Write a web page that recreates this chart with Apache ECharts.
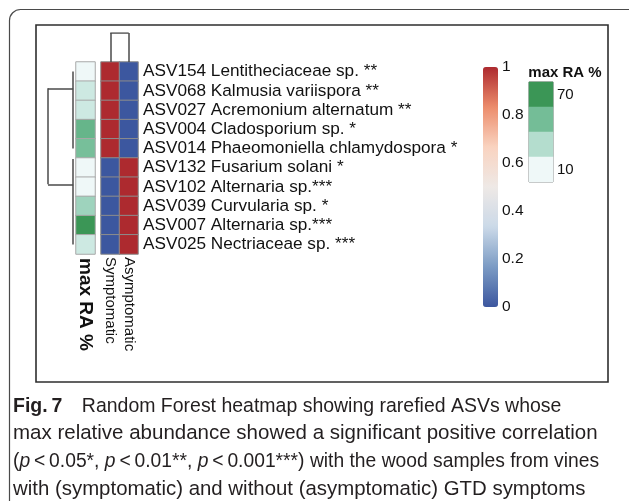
<!DOCTYPE html>
<html>
<head>
<meta charset="utf-8">
<script src="https://cdn.jsdelivr.net/npm/echarts@6/dist/echarts.min.js"></script>
<style>
  html, body { margin: 0; padding: 0; background: #fff; }
  #chart { width: 629px; height: 501px; }
</style>
</head>
<body>
<div id="chart"></div>
<script>
// Rows of the heatmap, top to bottom
const asvLabels = [
  'ASV154 Lentitheciaceae sp. **',
  'ASV068 Kalmusia variispora **',
  'ASV027 Acremonium alternatum **',
  'ASV004 Cladosporium sp. *',
  'ASV014 Phaeomoniella chlamydospora *',
  'ASV132 Fusarium solani *',
  'ASV102 Alternaria sp.***',
  'ASV039 Curvularia sp. *',
  'ASV007 Alternaria sp.***',
  'ASV025 Nectriaceae sp. ***'
];
const sampleGroups = ['Symptomatic', 'Asymptomatic'];
// Scaled abundance per group (0..1)
const symptomatic  = [1, 1, 1, 1, 1, 0, 0, 0, 0, 0];
const asymptomatic = [0, 0, 0, 0, 0, 1, 1, 1, 1, 1];
// Maximum relative abundance (%) of each ASV
const maxRA = [10, 25, 25, 54, 49, 10, 10, 38, 70, 25];
// Discrete legend for max RA %
const raLegendValues = [70, 50, 32, 10];
const raLegendLabels = ['70', '', '', '10'];
const raTitle = 'max RA %';
// Colour scale ticks
const scaleTicks = [0, 0.2, 0.4, 0.6, 0.8, 1];
// Row dendrogram: [height, row position] pairs per segment
const rowDendro = [
  [[1, 0.87], [1, 5.87]],
  [[1, 0.87], [0.1, 0.87]],
  [[0.1, 0], [0.1, 4]],
  [[1, 5.87], [0.1, 5.87]],
  [[0.1, 4.55], [0.1, 9]]
];
// Column dendrogram: [column position, height] pairs per segment
const colDendro = [
  [[0, 0], [0, 1]],
  [[0, 1], [1, 1]],
  [[1, 1], [1, 0]]
];
const captionLines = [
  '{b|Fig.\u20097}\u2003Random Forest heatmap showing rarefied ASVs whose',
  'max relative abundance showed a significant positive correlation',
  '({i|p}\u2009<\u20090.05*, {i|p}\u2009<\u20090.01**, {i|p}\u2009<\u20090.001***) with the wood samples from vines',
  'with (symptomatic) and without (asymptomatic) GTD symptoms'
];
// Horizontal compression of each caption line (narrow typeface look)
const captionScale = [0.95, 1.0, 0.94, 0.995];

const FONT = "'Liberation Sans', Arial, sans-serif";
const CAP = 20.5;

const mainData = [];
symptomatic.forEach((v, r) => mainData.push([0, r, v]));
asymptomatic.forEach((v, r) => mainData.push([1, r, v]));
const raData = maxRA.map((v, r) => [0, r, v]);
const legendData = raLegendValues.map((v, r) => [0, r, v]);

const chart = echarts.init(document.getElementById('chart'), null, { renderer: 'canvas' });

const hiddenVal = (extra) => Object.assign({ type: 'value', show: false, splitLine: { show: false } }, extra);

const option = {
  animation: false,
  backgroundColor: '#fff',
  graphic: [
    { type: 'rect', z: 0, shape: { x: 9.5, y: 9.5, width: 640, height: 540, r: 11 },
      style: { fill: 'none', stroke: '#4a4a4a', lineWidth: 1.2 } },
    { type: 'rect', z: 0, shape: { x: 36, y: 25, width: 572, height: 357 },
      style: { fill: 'none', stroke: '#2e2e2e', lineWidth: 1.6 } },
    { type: 'text', x: 565, y: 73, style: { text: raTitle, font: 'bold 15px ' + FONT, fill: '#111',
      align: 'center', verticalAlign: 'middle' } }
  ].concat(captionLines.map((t, i) => ({
    type: 'text', x: 13, y: 406 + i * 27.7, scaleX: captionScale[i],
    style: {
      text: t, font: CAP + 'px ' + FONT, fill: '#231f20', verticalAlign: 'middle',
      rich: {
        b: { fontWeight: 'bold', fontSize: CAP, fontFamily: FONT, fill: '#231f20' },
        i: { fontStyle: 'italic', fontSize: CAP, fontFamily: FONT, fill: '#231f20' }
      }
    }
  }))),
  grid: [
    { left: 101, top: 62, width: 37, height: 192 },
    { left: 76, top: 62, width: 19, height: 192 },
    { left: 48, top: 62, width: 28, height: 192 },
    { left: 101, top: 33, width: 37, height: 29 },
    { left: 483, top: 67, width: 15, height: 240 },
    { left: 529, top: 82, width: 24, height: 100, show: true, borderColor: '#777', borderWidth: 1 }
  ],
  xAxis: [
    { type: 'category', gridIndex: 0, data: sampleGroups, axisLine: { show: false }, axisTick: { show: false },
      axisLabel: { interval: 0, rotate: -90, margin: 3, fontSize: 15, color: '#111', fontFamily: FONT } },
    { type: 'category', gridIndex: 1, data: [raTitle], axisLine: { show: false }, axisTick: { show: false },
      axisLabel: { interval: 0, rotate: -90, margin: 4, fontSize: 19, fontWeight: 'bold', color: '#111', fontFamily: FONT } },
    hiddenVal({ gridIndex: 2, min: 0, max: 1, inverse: true }),
    hiddenVal({ gridIndex: 3, min: -0.5, max: 1.5 }),
    hiddenVal({ gridIndex: 4, min: 0, max: 1 }),
    { type: 'category', gridIndex: 5, data: [raTitle], show: false }
  ],
  yAxis: [
    { type: 'category', gridIndex: 0, data: asvLabels, inverse: true, position: 'right',
      axisLine: { show: false }, axisTick: { show: false },
      axisLabel: { interval: 0, margin: 5, fontSize: 17.2, color: '#111', fontFamily: FONT } },
    { type: 'category', gridIndex: 1, data: asvLabels, inverse: true, show: false },
    hiddenVal({ gridIndex: 2, min: -0.5, max: 9.5, inverse: true }),
    hiddenVal({ gridIndex: 3, min: 0, max: 1 }),
    { type: 'value', gridIndex: 4, min: 0, max: 1, interval: 0.2, position: 'right',
      axisLine: { show: false }, axisTick: { show: false }, splitLine: { show: false },
      axisLabel: { margin: 4, fontSize: 15.5, color: '#111', fontFamily: FONT,
        customValues: scaleTicks } },
    { type: 'category', gridIndex: 5, data: raLegendLabels, inverse: true, position: 'right',
      axisLine: { show: false }, axisTick: { show: false },
      axisLabel: { interval: 0, margin: 4, fontSize: 15, color: '#111', fontFamily: FONT } }
  ],
  visualMap: [
    { type: 'continuous', seriesIndex: 0, min: 0, max: 1, calculable: false, hoverLink: false,
      orient: 'vertical', left: 483, top: 67, itemWidth: 15, itemHeight: 240, padding: 0,
      inRange: { color: ['#3c579f', '#7b9bc4', '#cbd9e8', '#eee9e6', '#f9d3c0', '#ec8c6b', '#ad2a2f'] } },
    { type: 'continuous', show: false, seriesIndex: [1, 4], min: 10, max: 70,
      inRange: { color: ['#eff8f8', '#cde9e2', '#97d0b7', '#62b387', '#3b9656'] } }
  ],
  series: [
    { type: 'heatmap', xAxisIndex: 0, yAxisIndex: 0, data: mainData, silent: true,
      itemStyle: { borderColor: '#8c8c8c', borderWidth: 1 } },
    { type: 'heatmap', xAxisIndex: 1, yAxisIndex: 1, data: raData, silent: true,
      itemStyle: { borderColor: '#a8a8a8', borderWidth: 1 } },
    { type: 'lines', coordinateSystem: 'cartesian2d', xAxisIndex: 2, yAxisIndex: 2, silent: true,
      lineStyle: { color: '#4a4a4a', width: 1.5, opacity: 1, curveness: 0 },
      data: rowDendro.map(c => ({ coords: c })) },
    { type: 'lines', coordinateSystem: 'cartesian2d', xAxisIndex: 3, yAxisIndex: 3, silent: true,
      lineStyle: { color: '#4a4a4a', width: 1.5, opacity: 1, curveness: 0 },
      data: colDendro.map(c => ({ coords: c })) },
    { type: 'heatmap', xAxisIndex: 5, yAxisIndex: 5, data: legendData, silent: true,
      itemStyle: { borderWidth: 0 } }
  ]
};

chart.setOption(option);
</script>
</body>
</html>
